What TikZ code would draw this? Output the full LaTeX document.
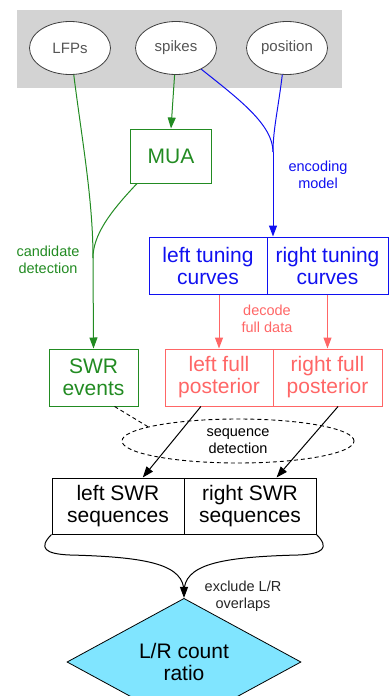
\documentclass[tikz,border=0pt]{standalone}
\usepackage{fontspec}
\setmainfont{Liberation Sans}
\usetikzlibrary{shapes.geometric,arrows.meta}
\definecolor{gvgreen}{HTML}{228B22}
\definecolor{gvblue}{HTML}{1010F0}
\definecolor{gvred}{HTML}{FF6666}
\definecolor{gvcyan}{HTML}{80E5FF}
\definecolor{gvgray}{HTML}{D3D3D3}
\definecolor{srctext}{HTML}{555555}
\begin{document}
\begin{tikzpicture}[x=1pt,y=-1pt,
  big/.style={font=\fontsize{21}{22}\selectfont, align=center},
  small/.style={font=\fontsize{14.5}{17}\selectfont, align=center},
  rec/.style={draw, rectangle, inner sep=0pt, line width=1pt, big},
  src/.style={ellipse, draw=black!75, fill=white, line width=0.8pt, minimum width=81pt, minimum height=53pt, inner sep=0pt, font=\fontsize{15}{17}\selectfont, text=srctext},
  arr/.style={-{Triangle[length=11pt,width=8pt]}},
  ln/.style={line width=1pt},
  dsh/.style={dash pattern=on 4pt off 3pt, line width=0.9pt}
]
\useasboundingbox (0,0) rectangle (389,696);
\fill[gvgray] (17,10) rectangle (342,88);
\node[src] (lfp) at (70,48) {LFPs};
\node[src] (spk) at (176,48) {spikes};
\node[src] (pos) at (287,48) {position};

\node[rec, draw=gvgreen, text=gvgreen, minimum width=81pt, minimum height=54pt] (mua) at (171,156) {MUA};
\node[rec, draw=gvblue, text=gvblue, minimum width=118pt, minimum height=57pt] (lt) at (208,265.5) {left tuning\\curves};
\node[rec, draw=gvblue, text=gvblue, minimum width=121pt, minimum height=57pt] (rt) at (327.5,265.5) {right tuning\\curves};
\node[rec, draw=gvgreen, text=gvgreen, minimum width=89pt, minimum height=57pt] (swr) at (93.5,377.5) {SWR\\events};
\node[rec, draw=gvred, text=gvred, minimum width=108pt, minimum height=57pt] (lp) at (219,377.5) {left full\\posterior};
\node[rec, draw=gvred, text=gvred, minimum width=109pt, minimum height=57pt] (rp) at (327.5,377.5) {right full\\posterior};
\node[ellipse, dsh, draw, minimum width=232pt, minimum height=44pt, inner sep=0pt, small] (seq) at (238,441) {sequence\\detection};
\node[rec, draw=black, minimum width=132pt, minimum height=56pt] (ls) at (118,506) {left SWR\\sequences};
\node[rec, draw=black, minimum width=132pt, minimum height=56pt] (rs) at (250,506) {right SWR\\sequences};
\node[diamond, draw=black, fill=gvcyan, line width=0.8pt, minimum width=234pt, minimum height=70pt, inner sep=0pt, big] (ratio) at (184,662) {L/R count\\ratio};

% labels
\node[small, text=gvgreen] (lcand) at (48,260) {candidate\\detection};
\node[small, text=gvblue] (lenc) at (318,175) {encoding\\model};
\node[small, text=gvred] (ldec) at (267,319) {decode\\full data};
\node[small, text=black!85] (lexc) at (243,596) {exclude L/R\\overlaps};

% green edges
\coordinate (mg) at (93,258);
\draw[gvgreen, ln] (lfp.-82) .. controls (82,140) and (93,200) .. (mg);
\draw[gvgreen, ln] (mua.-141) .. controls (110,212) and (93,235) .. (mg);
\draw[gvgreen, ln, arr] (mg) -- (swr.north);
\draw[gvgreen, ln, arr] (spk.-93) -- (mua.north);

% blue edges
\coordinate (mb) at (273,152);
\draw[gvblue, ln] (spk.-40) .. controls (240,100) and (273,125) .. (mb);
\draw[gvblue, ln] (pos.-100) .. controls (278,110) and (273,130) .. (mb);
\draw[gvblue, ln, arr] (mb) -- (mb |- rt.north);

% red edges
\draw[gvred, ln, arr] (lt.south -| lp.north) -- (lp.north);
\draw[gvred, ln, arr] (rt.south -| rp.north) -- (rp.north);

% black edges
\draw[ln, arr] (lp.-122) -- (ls.49);
\draw[ln, arr] (rp.-70) -- (rs.47);
\draw[dsh] (swr.-54) -- (seq.171);

% brace
\coordinate (bj) at (184,592);
\draw[ln] (ls.south west) .. controls (38,548) and (45,554) .. (70,555) .. controls (150,557) and (184,565) .. (bj);
\draw[ln] (rs.south east) .. controls (330,548) and (323,554) .. (298,555) .. controls (218,557) and (184,565) .. (bj);
\draw[ln, arr] (bj) -- (ratio.north);
\end{tikzpicture}
\end{document}
